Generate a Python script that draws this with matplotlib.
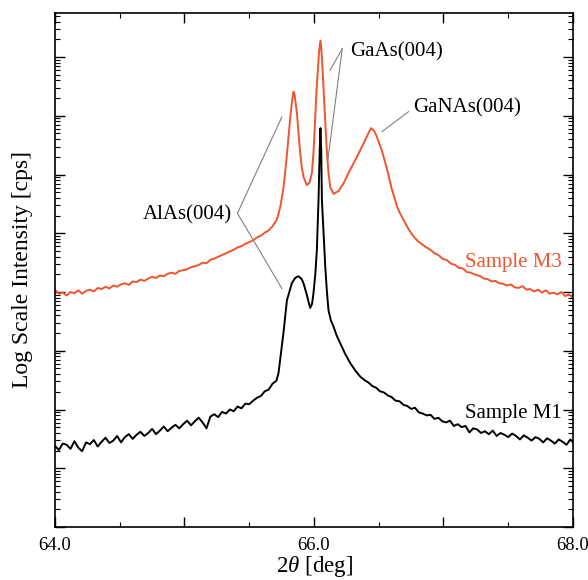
import numpy as np
import matplotlib
matplotlib.use("Agg")
import matplotlib.pyplot as plt
from matplotlib.ticker import FixedLocator, MultipleLocator, LogLocator, NullFormatter

plt.rcParams['font.family'] = ['Liberation Serif', 'DejaVu Serif']
plt.rcParams['mathtext.fontset'] = 'custom'
plt.rcParams['mathtext.rm'] = 'Liberation Serif'
plt.rcParams['mathtext.it'] = 'Liberation Serif:italic'

# ---- data: 2theta [deg] and log10(intensity [cps]) ----
m1_two_theta = [
    64.00, 64.03, 64.06, 64.09, 64.12, 64.15, 64.18, 64.21, 64.24, 64.27,
    64.30, 64.33, 64.36, 64.39, 64.42, 64.45, 64.48, 64.51, 64.54, 64.57,
    64.60, 64.63, 64.66, 64.69, 64.72, 64.75, 64.78, 64.81, 64.84, 64.87,
    64.90, 64.93, 64.96, 64.99, 65.02, 65.05, 65.08, 65.11, 65.14, 65.17,
    65.20, 65.23, 65.26, 65.29, 65.32, 65.35, 65.38, 65.41, 65.44, 65.47,
    65.50, 65.53, 65.56, 65.59, 65.62, 65.65, 65.68, 65.71, 65.726,
    65.764, 65.791, 65.829, 65.855, 65.880, 65.905, 65.919, 65.945, 65.957, 65.971,
    65.985, 65.996, 66.010, 66.022, 66.035, 66.044, 66.050, 66.056, 66.061, 66.075,
    66.087, 66.100, 66.112, 66.130, 66.151, 66.175, 66.202, 66.240, 66.280, 66.320,
    66.357, 66.39, 66.42, 66.45, 66.48, 66.51, 66.54, 66.57, 66.60, 66.63,
    66.66, 66.69, 66.72, 66.75, 66.78, 66.81, 66.84, 66.87, 66.90, 66.93,
    66.96, 66.99, 67.02, 67.05, 67.08, 67.11, 67.14, 67.17, 67.20, 67.23,
    67.26, 67.29, 67.32, 67.35, 67.38, 67.41, 67.44, 67.47, 67.50, 67.53,
    67.56, 67.59, 67.62, 67.65, 67.68, 67.71, 67.74, 67.77, 67.80, 67.83,
    67.86, 67.89, 67.92, 67.95, 67.98, 68.00,
]
m1_log_cps = [
    1.38, 1.31, 1.42, 1.40, 1.33, 1.46, 1.35, 1.29, 1.44, 1.41,
    1.48, 1.37, 1.45, 1.52, 1.43, 1.47, 1.55, 1.44, 1.53, 1.58,
    1.50, 1.57, 1.62, 1.55, 1.60, 1.67, 1.58, 1.64, 1.71, 1.63,
    1.69, 1.74, 1.68, 1.75, 1.81, 1.73, 1.80, 1.86, 1.78, 1.68,
    1.88, 1.92, 1.87, 1.96, 1.93, 2.00, 1.97, 2.05, 2.02, 2.10,
    2.09, 2.15, 2.20, 2.23, 2.31, 2.34, 2.44, 2.49, 2.62,
    3.30, 3.86, 4.15, 4.24, 4.27, 4.22, 4.15, 3.95, 3.84, 3.73,
    3.80, 3.98, 4.30, 4.71, 5.57, 6.40, 6.79, 6.40, 5.57, 4.95,
    4.43, 4.00, 3.69, 3.52, 3.41, 3.26, 3.13, 2.95, 2.79, 2.66,
    2.56, 2.50, 2.46, 2.40, 2.37, 2.31, 2.29, 2.24, 2.21, 2.15,
    2.14, 2.08, 2.06, 2.01, 2.03, 1.95, 1.93, 1.90, 1.91, 1.84,
    1.86, 1.80, 1.78, 1.81, 1.72, 1.75, 1.70, 1.72, 1.61, 1.68,
    1.66, 1.60, 1.63, 1.58, 1.64, 1.55, 1.60, 1.57, 1.53, 1.59,
    1.55, 1.49, 1.56, 1.52, 1.47, 1.53, 1.50, 1.44, 1.51, 1.47,
    1.42, 1.49, 1.45, 1.40, 1.49, 1.44,
]

m3_two_theta = [
    64.00, 64.03, 64.06, 64.09, 64.12, 64.15, 64.18, 64.21, 64.24, 64.27,
    64.30, 64.33, 64.36, 64.39, 64.42, 64.45, 64.48, 64.51, 64.54, 64.57,
    64.60, 64.63, 64.66, 64.69, 64.72, 64.75, 64.78, 64.81, 64.84, 64.87,
    64.90, 64.93, 64.96, 64.99, 65.02, 65.05, 65.08, 65.11, 65.14, 65.17,
    65.20, 65.23, 65.26, 65.29, 65.32, 65.35, 65.38, 65.41, 65.44, 65.47,
    65.50, 65.53, 65.56, 65.59, 65.62, 65.65, 65.68, 65.713, 65.74,
    65.764, 65.785, 65.803, 65.818, 65.829, 65.836, 65.842, 65.850, 65.858, 65.868,
    65.880, 65.893, 65.906, 65.919, 65.945, 65.965, 65.984, 65.997, 66.009, 66.020,
    66.030, 66.040, 66.050, 66.060, 66.073, 66.087, 66.100, 66.112, 66.125, 66.151,
    66.190, 66.228, 66.265, 66.305, 66.345, 66.383, 66.415, 66.440, 66.465, 66.486,
    66.525, 66.563, 66.600, 66.641, 66.666, 66.70, 66.73, 66.767, 66.80, 66.83,
    66.86, 66.898, 66.93, 66.96, 66.99, 67.027, 67.06, 67.09, 67.12, 67.15,
    67.18, 67.21, 67.24, 67.284, 67.31, 67.34, 67.37, 67.40, 67.43, 67.46,
    67.49, 67.52, 67.55, 67.58, 67.61, 67.64, 67.67, 67.70, 67.73, 67.76,
    67.79, 67.82, 67.85, 67.88, 67.91, 67.94, 67.97, 68.00,
]
m3_log_cps = [
    4.04, 3.97, 3.99, 3.94, 4.00, 3.98, 4.03, 3.97, 4.02, 4.04,
    4.01, 4.07, 4.05, 4.09, 4.06, 4.11, 4.09, 4.13, 4.15, 4.12,
    4.18, 4.17, 4.21, 4.19, 4.23, 4.26, 4.24, 4.28, 4.27, 4.31,
    4.33, 4.31, 4.36, 4.37, 4.39, 4.42, 4.44, 4.46, 4.50, 4.49,
    4.55, 4.57, 4.60, 4.63, 4.66, 4.69, 4.72, 4.76, 4.78, 4.82,
    4.85, 4.88, 4.93, 4.96, 5.01, 5.05, 5.12, 5.23, 5.45,
    5.77, 6.20, 6.64, 7.00, 7.22, 7.34, 7.41, 7.36, 7.22, 7.05,
    6.72, 6.37, 6.12, 5.96, 5.82, 5.86, 6.03, 6.40, 6.93, 7.45,
    7.78, 8.12, 8.28, 8.05, 7.49, 6.90, 6.37, 6.02, 5.79, 5.67,
    5.72, 5.85, 6.02, 6.19, 6.36, 6.53, 6.68, 6.79, 6.74, 6.64,
    6.40, 6.10, 5.76, 5.46, 5.33, 5.19, 5.07, 4.95, 4.87, 4.82,
    4.77, 4.72, 4.66, 4.63, 4.57, 4.54, 4.48, 4.46, 4.41, 4.40,
    4.34, 4.33, 4.30, 4.27, 4.23, 4.22, 4.18, 4.19, 4.15, 4.14,
    4.11, 4.13, 4.08, 4.07, 4.10, 4.04, 4.05, 4.01, 4.04, 3.99,
    4.03, 3.97, 3.99, 3.96, 4.00, 3.93, 3.96, 3.90,
]

x_tick_values = [64.0, 65.0, 66.0, 67.0, 68.0]
x_tick_labels = ["64.0", "", "66.0", "", "68.0"]

RED = '#F0552D'

fig = plt.figure(figsize=(5.88, 5.80), dpi=100)
ax = fig.add_axes([0.0935, 0.0914, 0.881, 0.8862])

ax.plot(m1_two_theta, np.power(10.0, m1_log_cps), color='black', lw=1.4)
ax.plot(m3_two_theta, np.power(10.0, m3_log_cps), color=RED, lw=1.4)

ax.set_yscale('log')
ax.set_xlim(64.0, 68.0)
ax.set_ylim(1.0, 10 ** 8.75)

ax.xaxis.set_major_locator(FixedLocator(x_tick_values))
ax.set_xticklabels(x_tick_labels)
ax.xaxis.set_minor_locator(MultipleLocator(0.5))
ax.yaxis.set_major_locator(LogLocator(base=10, numticks=20))
ax.yaxis.set_minor_locator(LogLocator(base=10, subs=np.arange(2, 10), numticks=20))
ax.yaxis.set_major_formatter(NullFormatter())
ax.yaxis.set_minor_formatter(NullFormatter())

ax.tick_params(which='both', direction='in', top=True, right=True, labelsize=13.5)
ax.tick_params(which='major', length=7, width=1.0)
ax.tick_params(which='minor', length=3.5, width=0.8)
ax.tick_params(axis='x', pad=7)
for s in ax.spines.values():
    s.set_linewidth(1.2)

ax.set_xlabel(r'2$\theta$ [deg]', fontsize=16.5, labelpad=0)
ax.set_ylabel('Log Scale Intensity [cps]', fontsize=17)
ax.yaxis.set_label_coords(-0.042, 0.5)

# annotations
gray = '#808080'
def L(v):
    return 10 ** v

ax.text(66.28, L(8.09), 'GaAs(004)', fontsize=15, ha='left', va='center')
ax.plot([66.218, 66.125], [L(8.14), L(7.78)], color=gray, lw=0.8)
ax.plot([66.218, 66.107], [L(8.14), L(6.25)], color=gray, lw=0.8)

ax.text(66.767, L(7.13), 'GaNAs(004)', fontsize=15, ha='left', va='center')
ax.plot([66.730, 66.525], [L(7.07), L(6.73)], color=gray, lw=0.8)

ax.text(65.368, L(5.31), 'AlAs(004)', fontsize=15, ha='right', va='center')
ax.plot([65.409, 65.752], [L(5.34), L(6.98)], color=gray, lw=0.8)
ax.plot([65.409, 65.752], [L(5.34), L(4.06)], color=gray, lw=0.8)

ax.text(67.168, L(4.51), 'Sample M3', fontsize=15, ha='left', va='center', color=RED)
ax.text(67.168, L(1.94), 'Sample M1', fontsize=15, ha='left', va='center', color='black')

fig.savefig('out.png', dpi=100)
